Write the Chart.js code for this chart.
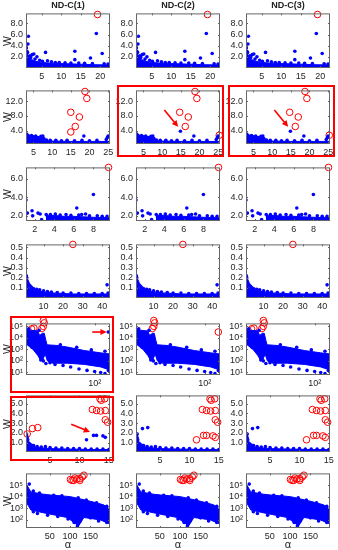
<!DOCTYPE html>
<html>
<head>
<meta charset="utf-8">
<script src="https://cdn.jsdelivr.net/npm/chart.js@4.4.0/dist/chart.umd.min.js"></script>
<style>
body { margin:0; background:#fff; width:338px; height:550px; position:relative; overflow:hidden;
       font-family:"Liberation Sans", Arial, sans-serif; color:#222; }
canvas { position:absolute; }
.box { position:absolute; border:2px solid #f00; box-sizing:border-box; }
.title { position:absolute; width:84px; text-align:center; font-weight:bold; font-size:9px; }
.ylab { position:absolute; width:12px; height:12px; line-height:12px; text-align:center; font-size:10.5px;
        transform:rotate(-90deg); }
.xlab { position:absolute; width:84px; text-align:center; font-size:11px; }
</style>
</head>
<body>
<script>
"use strict"

// ---- data ----
// row 1
const r1XTicks = [5, 10, 15, 20]
const r1YTicks = [2, 4, 6, 8]
const r1Cloud = [[1,0],[1,3.2],[1.3,2.6],[1.8,2.0],[2.5,1.5],[3.5,1.2],[5,1.0],[7,0.9],[10,0.8],[14,0.7],[18,0.6],[22.5,0.55],[22.5,0],[1,0]]
const r1Blue = [[1,4.2],[1.1,3.6],[1.2,3.0],[1.5,4.3],[1.6,5.7],[1.4,2.8],[2.0,2.2],[2.2,1.9],[2.6,2.4],[3.0,2.5],
    [3.3,1.6],[3.8,2.0],[4.5,1.4],[5.2,1.2],[6.0,2.8],[6.5,1.3],[7.5,1.1],[8.5,1.0],[9.5,1.0],[11,0.95],[12.5,0.9],
    [13.5,3.0],[13.5,1.5],[14.5,0.9],[16,0.85],[17.5,1.8],[18,0.8],[19,6.2],[20.5,2.6],[21,0.75],[22,0.7]]
const r1Red = [[19.3,9.6]]

// row 2
const r2XTicks = [5, 10, 15, 20, 25]
const r2YTicks = [4, 8, 12]
const r2Cloud = [[3,0.3],[3,2.0],[4,2.2],[6,2.0],[7.5,2.0],[8,1.2],[10,1.1],[15,1.0],[20,1.0],[25.5,1.0],[25.5,0.3],[3,0.3]]
const r2Blue = [[3.2,3.0],[3.5,2.6],[4,2.4],[4.5,2.6],[5,2.3],[5.6,2.5],[6.2,2.1],[7,2.4],[7.5,2.5],[7.8,1.8],[8.5,1.4],
    [9.5,1.3],[11,1.3],[12.5,1.2],[14,1.3],[16,1.2],[18,1.3],[18.5,2.5],[20,1.2],[22,1.3],[24.5,1.5],[24.8,2.1],[25,2.5]]
const r2RedC1 = [[18.8,14.7],[19.3,12.8],[15,9.0],[17.3,7.7],[16.2,5.1],[15,3.6]]
const r2RedC23 = [[18.8,14.7],[19.3,12.8],[14.7,9.0],[17,7.7],[16.2,5.1],[25.3,2.7]]
const r2BlueC23 = [[14.9,3.8]]
const r2Arrow = [10.6,9.6,14.3,5.0]

// row 3
const r3XTicks = [2, 4, 6, 8]
const r3YTicks = [2, 4, 6]
const r3Cloud = [[3.2,1.45],[3.2,2.0],[4,2.05],[5,1.95],[6,1.95],[7,1.9],[8,1.85],[9.7,1.8],[9.7,1.45],[3.2,1.45]]
const r3Blue = [[1.1,3.7],[1.24,2.3],[1.72,2.55],[1.78,2.0],[2.33,2.3],[2.55,2.2],[2.7,1.6],[3.17,2.15],[3.3,1.9],
    [3.6,2.15],[4.1,2.2],[4.6,2.1],[5.2,2.15],[5.7,2.05],[6.3,2.85],[6.5,2.1],[6.8,2.15],[7.2,2.2],[7.6,2.0],
    [8.0,4.3],[8.4,2.0],[8.9,1.95],[9.4,1.95]]
const r3Red = [[9.55,7.2]]

// row 4
const r4XTicks = [10, 20, 30, 40]
const r4YTicks = [0.1, 0.2, 0.3, 0.4, 0.5]
const r4Cloud = [[1,0.015],[1,0.2],[1.5,0.15],[2.5,0.1],[5,0.08],[10,0.06],[15,0.05],[25,0.04],[35,0.04],[43.5,0.04],[43.5,0.015],[1,0.015]]
const r4Blue = [[1.2,0.22],[1.4,0.2],[1.6,0.17],[2,0.15],[2.5,0.13],[3,0.12],[3.5,0.11],[4,0.1],[5,0.09],[6.5,0.085],
    [8,0.08],[10,0.07],[12,0.065],[14,0.06],[17,0.055],[20,0.05],[24,0.05],[28,0.045],[32,0.045],[36,0.045],
    [40,0.045],[42.5,0.13],[43,0.05]]
const r4Red = [[25,0.53]]

// row 5 (log-log)
const r5XTicks = [100]
const r5YTicks = [1e1, 1e2, 1e3, 1e4, 1e5]
const r5Cloud = [[1,5e4],[2.2,4e4],[2.5,1.6e4],[3.0,2.5e4],[3.4,2.5e4],[3.8,6e3],[4.1,2.5e3],[8,2.2e3],[16,1.6e3],
    [50,8e2],[150,5e2],[280,4e2],[280,16],[150,30],[50,50],[16,63],[6,63],[4.2,100],[3.6,400],[3.0,100],[2.6,125],
    [2.2,300],[1.6,1e3],[1,3e3],[1,5e4]]
const r5Blue = [[1.3,3e3],[1.5,1.5e3],[2,8e2],[2.7,1.2e2],[3.2,1e2],[3.8,60],[5,70],[7,50],[12,40],[20,30],[35,20],
    [60,15],[100,12],[150,10],[200,8],[250,15],[10,2.5e3],[30,1.5e3],[80,9e2],[200,7e2],[1.2,6e4],[2.4,4.5e4]]
const r5BlueC1 = [[250,3.2e4]]
const r5RedC1 = [[1.45,6e4],[1.7,7e4],[3.2,3.2e5],[3.4,2e5],[3.2,1e5],[2.9,6.5e4]]
const r5RedC2 = [[3.3,3.2e5],[3.5,2e5],[3.3,1e5],[3.0,6.5e4],[250,3.2e4]]
const r5RedC3 = [[1.45,6e4],[1.7,7e4],[3.2,3.2e5],[3.4,2e5],[3.2,1e5],[2.9,6.5e4]]
const r5Arrow = [85,3.2e4,225,3.2e4]

// row 6
const r6XTicks = [5, 10, 15]
const r6YTicks = [1, 2, 3, 4, 5]
const r6Cloud = [[0.9,0.05],[0.9,1.9],[1.1,1.2],[1.5,0.8],[2,0.6],[3,0.5],[5,0.4],[8,0.35],[12,0.3],[15.2,0.3],[15.2,0.05],[0.9,0.05]]
const r6Blue = [[1,1.9],[1,1.7],[1.1,1.5],[1.2,1.3],[1.3,1.0],[1.5,0.9],[1.8,0.75],[2.2,0.7],[2.8,0.6],[3.5,0.55],
    [4.2,0.6],[5,0.5],[6,0.45],[7,0.45],[8,0.4],[9,0.4],[10,0.4],[11,0.35],[12,0.35],[13,0.35],[14,0.35],[15,0.3]]
const r6TopRed = [[13.5,5.5],[14.3,5.5],[13.7,5.35],[12.2,4.4],[12.9,4.3],[13.6,4.25],[14.4,4.3],[14.4,3.35],[14.8,3.1]]
const r6LowPts = [[11.2,1.3],[12.4,1.75],[12.9,1.75],[14.0,1.7],[14.4,1.55]]
const r6LeftPts = [[1.1,1.9],[2.0,2.45],[2.9,2.55]]
const r6Arrow = [8.6,2.9,11.8,2.1]

// row 7 (log y)
const r7XTicks = [50, 100, 150]
const r7YTicks = [1e2, 1e3, 1e4, 1e5]
const r7Cloud = [[-6,1e5],[4,2.5e4],[36,1.6e4],[52,1.4e4],[101,1e4],[150,4e3],[182,2e3],[195,1e3],[195,50],
    [174,100],[134,160],[121,30],[93,160],[36,400],[4,700],[-6,2.8e3],[-6,1e5]]
const r7Blue = [[0,1.2e5],[10,3e4],[25,2e4],[60,1.3e4],[80,1.2e4],[120,8e3],[140,5e3],[165,3e3],[190,1.5e3],
    [10,500],[20,350],[45,250],[70,200],[95,120],[110,60],[118,30],[125,80],[150,150],[170,80],[190,60]]
const r7Red = [[101,3e5],[109,2.5e5],[117,3.2e5],[124,3.5e5],[130,5e5],[134,7e5],[112,4e5],[124,2.5e5],[105,2.5e5]]

// ---- layout ----
const colLeft = [26, 136, 246]
const plotW = 84
const rowTop = [13, 90, 167, 244, 323, 395, 473]
const rowH = [55, 54, 54, 54, 52, 57, 55]

const sup = {'0':'\u2070','1':'\u00b9','2':'\u00b2','3':'\u00b3','4':'\u2074','5':'\u2075','6':'\u2076'}
const fmt1 = v => v.toFixed(1)
const fmtInt = v => String(v)
const fmtPow = v => '10' + sup[String(Math.round(Math.log10(v)))]

const rows = [
    {xr:[1,22.5], yr:[0,9.8], xt:r1XTicks, yt:r1YTicks, fx:fmtInt, fy:fmt1},
    {xr:[3,25.5], yr:[0.3,15], xt:r2XTicks, yt:r2YTicks, fx:fmtInt, fy:fmt1},
    {xr:[1.1,9.7], yr:[1.45,7.2], xt:r3XTicks, yt:r3YTicks, fx:fmtInt, fy:fmt1},
    {xr:[1,44], yr:[0,0.53], xt:r4XTicks, yt:r4YTicks, fx:fmtInt, fy:fmt1},
    {xr:[1,280], yr:[6,1.8e5], xt:r5XTicks, yt:r5YTicks, fx:fmtPow, fy:fmtPow, xlog:true, ylog:true},
    {xr:[0.9,15.2], yr:[0.05,5.85], xt:r6XTicks, yt:r6YTicks, fx:fmtInt, fy:fmt1},
    {xr:[-8,198], yr:[20,1e6], xt:r7XTicks, yt:r7YTicks, fx:fmtInt, fy:fmtPow, ylog:true},
]

// which marks go in which panel
const cells = [
    [{c:r1Cloud, b:r1Blue, r:r1Red}, {c:r1Cloud, b:r1Blue, r:r1Red}, {c:r1Cloud, b:r1Blue, r:r1Red}],
    [{c:r2Cloud, b:r2Blue, r:r2RedC1}, {c:r2Cloud, b:r2Blue.concat(r2BlueC23), r:r2RedC23, a:r2Arrow},
     {c:r2Cloud, b:r2Blue.concat(r2BlueC23), r:r2RedC23, a:r2Arrow}],
    [{c:r3Cloud, b:r3Blue, r:r3Red}, {c:r3Cloud, b:r3Blue, r:r3Red}, {c:r3Cloud, b:r3Blue, r:r3Red}],
    [{c:r4Cloud, b:r4Blue, r:r4Red}, {c:r4Cloud, b:r4Blue, r:r4Red}, {c:r4Cloud, b:r4Blue, r:r4Red}],
    [{c:r5Cloud, b:r5Blue.concat(r5BlueC1), r:r5RedC1, a:r5Arrow}, {c:r5Cloud, b:r5Blue, r:r5RedC2},
     {c:r5Cloud, b:r5Blue, r:r5RedC3}],
    [{c:r6Cloud, b:r6Blue.concat(r6LowPts), r:r6LeftPts.concat(r6TopRed), a:r6Arrow},
     {c:r6Cloud, b:r6Blue.concat(r6LeftPts), r:r6TopRed.concat(r6LowPts)},
     {c:r6Cloud, b:r6Blue.concat(r6LeftPts), r:r6TopRed.concat(r6LowPts)}],
    [{c:r7Cloud, b:r7Blue, r:r7Red}, {c:r7Cloud, b:r7Blue, r:r7Red}, {c:r7Cloud, b:r7Blue, r:r7Red}],
]

const BLUE = '#0000ff'
const RED = '#ff0000'
const PAD_T = 8, PAD_R = 8, AX_Y = 24, AX_X = 14

function pts(a) { return a.map(p => ({x: p[0], y: p[1]})) }

// draws the box, inward ticks on all sides and the red arrows
const framePlugin = {
    id: 'frame',
    afterDatasetsDraw(chart) {
        const ctx = chart.ctx
        const a = chart.chartArea
        const xs = chart.scales.x, ys = chart.scales.y
        ctx.save()
        ctx.strokeStyle = '#666'
        ctx.lineWidth = 1
        ctx.strokeRect(a.left + 0.5, a.top + 0.5, a.right - a.left - 1, a.bottom - a.top - 1)
        ctx.beginPath()
        xs.ticks.forEach(t => {
            const px = Math.round(xs.getPixelForValue(t.value)) + 0.5
            ctx.moveTo(px, a.bottom); ctx.lineTo(px, a.bottom - 2)
            ctx.moveTo(px, a.top); ctx.lineTo(px, a.top + 2)
        })
        ys.ticks.forEach(t => {
            const py = Math.round(ys.getPixelForValue(t.value)) + 0.5
            ctx.moveTo(a.left, py); ctx.lineTo(a.left + 2, py)
            ctx.moveTo(a.right, py); ctx.lineTo(a.right - 2, py)
        })
        ctx.stroke()
        const arr = chart.options.plugins.frame.arrow
        if (arr) {
            const x1 = xs.getPixelForValue(arr[0]), y1 = ys.getPixelForValue(arr[1])
            const x2 = xs.getPixelForValue(arr[2]), y2 = ys.getPixelForValue(arr[3])
            const ang = Math.atan2(y2 - y1, x2 - x1)
            ctx.strokeStyle = RED
            ctx.fillStyle = RED
            ctx.lineWidth = 1.6
            ctx.beginPath()
            ctx.moveTo(x1, y1)
            ctx.lineTo(x2 - 5 * Math.cos(ang), y2 - 5 * Math.sin(ang))
            ctx.stroke()
            ctx.beginPath()
            ctx.moveTo(x2, y2)
            ctx.lineTo(x2 - 7 * Math.cos(ang - 0.45), y2 - 7 * Math.sin(ang - 0.45))
            ctx.lineTo(x2 - 7 * Math.cos(ang + 0.45), y2 - 7 * Math.sin(ang + 0.45))
            ctx.closePath()
            ctx.fill()
        }
        ctx.restore()
    }
}

function axis(range, ticks, f, isLog, isX) {
    return {
        type: isLog ? 'logarithmic' : 'linear',
        min: range[0], max: range[1],
        afterBuildTicks: s => { s.ticks = ticks.map(v => ({value: v})) },
        afterFit: s => { if (isX) s.height = AX_X; else s.width = AX_Y },
        grid: {display: false, drawTicks: false},
        border: {display: false},
        ticks: {
            callback: v => f(v), autoSkip: false, maxRotation: 0,
            padding: 3,
            color: '#262626',
            font: {family: '"Liberation Sans", "DejaVu Sans", Arial', size: 9}
        }
    }
}

function CreatePanel(r, c) {
    const spec = rows[r]
    const cell = cells[r][c]
    const canvas = document.createElement('canvas')
    const w = AX_Y + plotW + PAD_R, h = PAD_T + rowH[r] + AX_X
    canvas.width = w
    canvas.height = h
    canvas.style.left = (colLeft[c] - AX_Y) + 'px'
    canvas.style.top = (rowTop[r] - PAD_T) + 'px'
    document.body.appendChild(canvas)

    new Chart(canvas, {
        type: 'scatter',
        data: {
            datasets: [
                {data: pts(cell.c), showLine: true, fill: 'shape', backgroundColor: BLUE, borderColor: BLUE,
                 borderWidth: 1, pointRadius: 0, tension: 0},
                {data: pts(cell.b), pointRadius: 1.8, backgroundColor: BLUE, borderWidth: 0},
                {data: pts(cell.r), pointRadius: 3.3, backgroundColor: 'rgba(0,0,0,0)', borderColor: RED,
                 borderWidth: 1, clip: false},
            ]
        },
        options: {
            responsive: false,
            animation: false,
            devicePixelRatio: 1,
            layout: {padding: {top: PAD_T, right: PAD_R, left: 0, bottom: 0}},
            plugins: {legend: {display: false}, tooltip: {enabled: false}, frame: {arrow: cell.a}},
            scales: {
                x: axis(spec.xr, spec.xt, spec.fx, spec.xlog, true),
                y: axis(spec.yr, spec.yt, spec.fy, spec.ylog, false),
            }
        },
        plugins: [framePlugin]
    })
}

for (let r = 0; r < rows.length; r++) {
    for (let c = 0; c < 3; c++) CreatePanel(r, c)
}

// titles, axis labels and red frames
function addDiv(cls, text, left, top, extra) {
    const d = document.createElement('div')
    d.className = cls
    d.textContent = text
    d.style.left = left + 'px'
    d.style.top = top + 'px'
    if (extra) Object.assign(d.style, extra)
    document.body.appendChild(d)
}
const titles = ['ND-C(1)', 'ND-C(2)', 'ND-C(3)']
for (let c = 0; c < 3; c++) {
    addDiv('title', titles[c], colLeft[c], 0)
    addDiv('xlab', '\u03b1', colLeft[c], 538)
}
for (let r = 0; r < rows.length; r++) {
    addDiv('ylab', 'W', 1, rowTop[r] + rowH[r] / 2 - 6)
}
addDiv('box', '', 117, 85, {width: '107px', height: '72px'})
addDiv('box', '', 228, 85, {width: '107px', height: '72px'})
addDiv('box', '', 10, 316, {width: '104px', height: '77px'})
addDiv('box', '', 10, 396, {width: '104px', height: '65px'})
</script>
</body>
</html>
